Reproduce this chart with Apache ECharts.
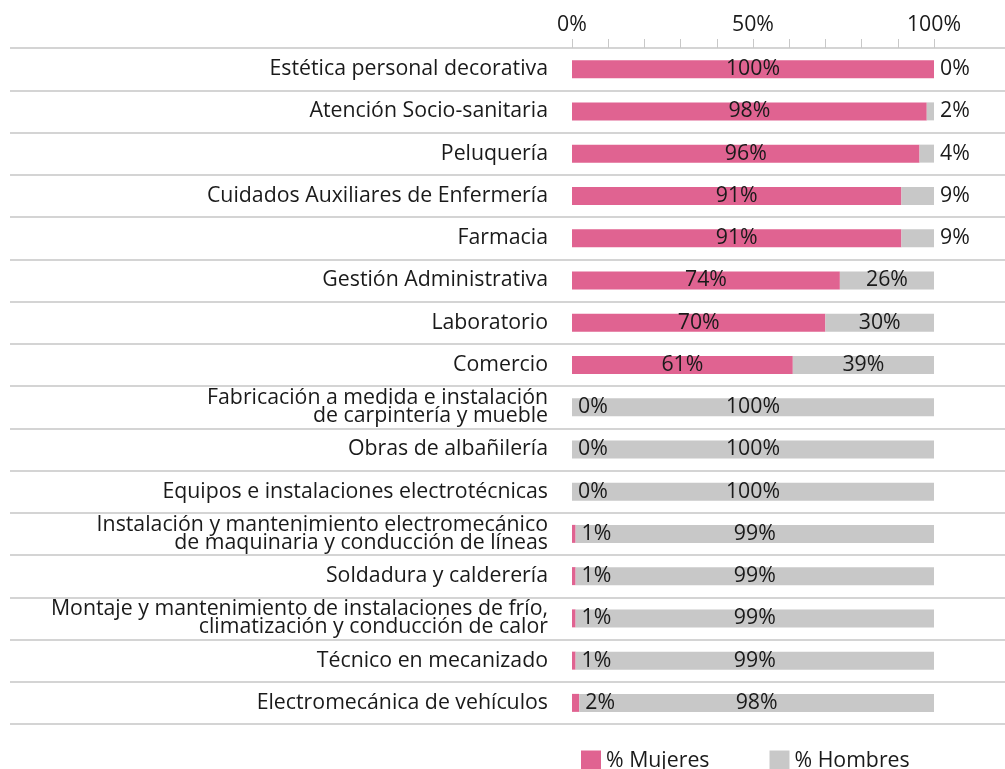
<!DOCTYPE html>
<html>
<head>
<meta charset="utf-8">
<script src="https://cdn.jsdelivr.net/npm/echarts@6/dist/echarts.min.js"></script>
<style>
  html, body { margin: 0; padding: 0; background: #fff; }
  #main { width: 1005px; height: 769px; }
</style>
</head>
<body>
<div id="main"></div>
<script>
// datos
var categorias = [
    'Estética personal decorativa',
    'Atención Socio-sanitaria',
    'Peluquería',
    'Cuidados Auxiliares de Enfermería',
    'Farmacia',
    'Gestión Administrativa',
    'Laboratorio',
    'Comercio',
    'Fabricación a medida e instalación\nde carpintería y mueble',
    'Obras de albañilería',
    'Equipos e instalaciones electrotécnicas',
    'Instalación y mantenimiento electromecánico\nde maquinaria y conducción de líneas',
    'Soldadura y calderería',
    'Montaje y mantenimiento de instalaciones de frío,\nclimatización y conducción de calor',
    'Técnico en mecanizado',
    'Electromecánica de vehículos'
];
var mujeres = [100, 98, 96, 91, 91, 74, 70, 61, 0, 0, 0, 1, 1, 1, 1, 2];
var hombres = [0, 2, 4, 9, 9, 26, 30, 39, 100, 100, 100, 99, 99, 99, 99, 98];
var ejeTicks = [0, 50, 100];

var fuente = 'Open Sans';
var colorTexto = '#1a1a1a';
var tam = 21.3;

// etiquetas: dentro de la barra si cabe, a la derecha si es pequeña
function conEtiquetas(valores, limite) {
    return valores.map(function (v) {
        return {
            value: v,
            label: { position: v < limite ? 'right' : 'inside', distance: 6 }
        };
    });
}

var myChart = echarts.init(document.getElementById('main'));
var option = {
    animation: false,
    textStyle: { fontFamily: fuente },
    legend: {
        data: ['% Mujeres', '% Hombres'],
        left: 576,
        top: 745,
        icon: 'rect',
        itemWidth: 20,
        itemHeight: 20,
        itemGap: 60,
        textStyle: { fontSize: tam, color: colorTexto, fontFamily: fuente }
    },
    grid: [
        { left: 572, right: 71, top: 48, bottom: 45 },
        { left: 10, right: 0, top: 48, bottom: 45 }
    ],
    xAxis: [
        {
            type: 'value',
            gridIndex: 0,
            position: 'top',
            min: ejeTicks[0],
            max: ejeTicks[ejeTicks.length - 1],
            interval: 50,
            axisLine: { show: true, lineStyle: { color: '#d4d4d4', width: 2 } },
            axisTick: { show: true, length: 9, lineStyle: { color: '#c8c8c8' } },
            minorTick: { show: true, splitNumber: 5, length: 9, lineStyle: { color: '#c8c8c8' } },
            splitLine: { show: false },
            axisLabel: {
                formatter: '{value}%',
                fontSize: tam,
                color: colorTexto,
                margin: 13,
                fontFamily: fuente
            }
        },
        {
            type: 'value',
            gridIndex: 1,
            min: 0,
            max: 1,
            show: false
        }
    ],
    yAxis: [
        {
            type: 'category',
            gridIndex: 0,
            data: categorias,
            inverse: true,
            axisLine: { show: false },
            axisTick: { show: false },
            axisLabel: {
                fontSize: tam,
                color: colorTexto,
                margin: 24,
                lineHeight: 18,
                fontFamily: fuente
            }
        },
        {
            type: 'category',
            gridIndex: 1,
            data: categorias,
            inverse: true,
            axisLine: { show: false },
            axisTick: { show: false },
            axisLabel: { show: false },
            splitLine: { show: true, lineStyle: { color: '#d4d4d4', width: 2 } }
        }
    ],
    series: [
        {
            name: '% Mujeres',
            type: 'bar',
            stack: 'total',
            barWidth: 18,
            itemStyle: { color: '#e06391' },
            label: {
                show: true,
                formatter: '{c}%',
                fontSize: tam,
                color: colorTexto,
                fontFamily: fuente
            },
            data: conEtiquetas(mujeres, 5)
        },
        {
            name: '% Hombres',
            type: 'bar',
            stack: 'total',
            barWidth: 18,
            itemStyle: { color: '#c8c8c8' },
            label: {
                show: true,
                formatter: '{c}%',
                fontSize: tam,
                color: colorTexto,
                fontFamily: fuente
            },
            data: conEtiquetas(hombres, 10)
        }
    ]
};
myChart.setOption(option);
</script>
</body>
</html>
